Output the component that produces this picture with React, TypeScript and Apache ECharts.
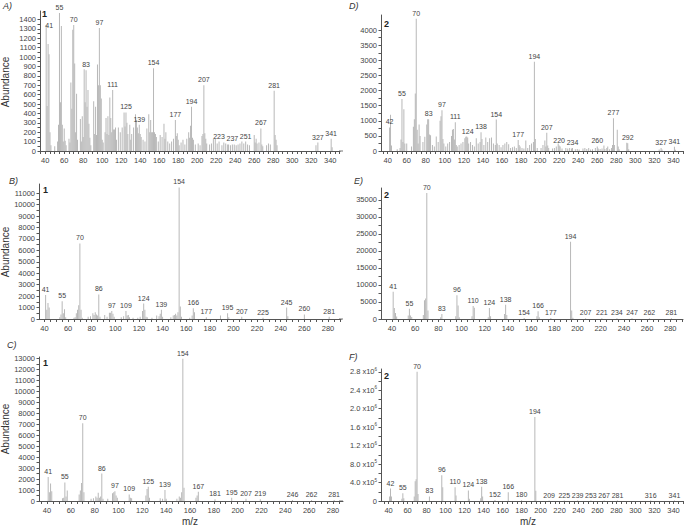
import React, { useEffect, useRef } from "react";
import * as echarts from "echarts";

// ---- Data: [m/z, abundance] ----
const spectrumA: [number, number][] = [
  [41, 1340], [42, 480], [43, 1140], [44, 1030], [45, 200], [46, 60], [50, 50], [53, 100], [54, 280], [55, 1470],
  [56, 520], [57, 1330], [58, 280], [59, 100], [60, 240], [61, 110], [62, 60], [65, 130], [66, 90], [67, 730],
  [68, 450], [69, 1290], [70, 1340], [71, 930], [72, 200], [73, 610], [74, 120], [77, 340], [78, 100], [79, 370],
  [80, 150], [81, 870], [82, 520], [83, 860], [84, 470], [85, 650], [86, 290], [87, 140], [88, 60], [91, 530],
  [92, 180], [93, 470], [94, 170], [95, 920], [96, 700], [97, 1310], [98, 700], [99, 560], [100, 120], [101, 90],
  [103, 200], [104, 350], [105, 180], [106, 370], [107, 170], [108, 570], [109, 350], [110, 200], [111, 650], [112, 230],
  [113, 230], [114, 250], [115, 120], [117, 250], [119, 200], [121, 250], [123, 410], [124, 260], [125, 410], [126, 300],
  [127, 180], [129, 280], [130, 120], [131, 180], [133, 250], [135, 390], [136, 330], [137, 250], [138, 190], [139, 280],
  [140, 180], [141, 150], [143, 120], [145, 100], [147, 240], [149, 390], [150, 200], [151, 330], [152, 200], [153, 200],
  [154, 880], [155, 200], [156, 180], [157, 150], [159, 100], [161, 170], [163, 150], [165, 290], [166, 130], [167, 200],
  [169, 100], [171, 80], [173, 100], [175, 130], [177, 330], [178, 160], [179, 190], [180, 120], [181, 60], [183, 90],
  [185, 120], [187, 70], [189, 130], [191, 200], [192, 140], [193, 270], [194, 470], [195, 140], [196, 120], [198, 70],
  [201, 80], [203, 60], [205, 160], [206, 180], [207, 700], [208, 190], [209, 130], [210, 80], [213, 70], [215, 80],
  [217, 130], [219, 130], [221, 80], [223, 100], [226, 60], [228, 90], [230, 80], [232, 70], [233, 70], [235, 60],
  [237, 70], [239, 70], [241, 60], [243, 70], [245, 80], [247, 100], [249, 80], [251, 100], [253, 70], [255, 60],
  [260, 170], [261, 90], [262, 130], [263, 80], [265, 90], [267, 240], [268, 70], [269, 50], [273, 60], [275, 80],
  [277, 70], [281, 640], [282, 170], [283, 120], [284, 60], [325, 60], [327, 90], [341, 130], [342, 40],
];
const labelsA = [41, 55, 70, 83, 97, 111, 125, 139, 154, 177, 194, 207, 223, 237, 251, 267, 281, 327, 341];

const spectrumB: [number, number][] = [
  [41, 2100], [42, 800], [43, 1400], [44, 1000], [53, 150], [54, 400], [55, 1550], [56, 500], [57, 850], [58, 150],
  [65, 100], [66, 150], [67, 500], [68, 800], [69, 1200], [70, 6600], [71, 800], [72, 100], [77, 200], [79, 250],
  [81, 500], [82, 350], [83, 600], [84, 400], [85, 300], [86, 2150], [87, 200], [91, 350], [93, 200], [95, 550],
  [96, 550], [97, 700], [98, 450], [99, 200], [105, 150], [107, 250], [109, 700], [110, 300], [111, 350], [112, 150],
  [115, 100], [119, 100], [121, 200], [123, 700], [124, 1350], [125, 800], [126, 200], [127, 150], [131, 100], [135, 300],
  [137, 250], [138, 450], [139, 800], [140, 200], [147, 150], [149, 300], [150, 350], [151, 450], [152, 300], [153, 600],
  [154, 11500], [155, 1100], [156, 200], [163, 100], [165, 300], [166, 950], [167, 600], [177, 150], [189, 300], [195, 500],
  [196, 150], [207, 200], [225, 100], [245, 1000], [246, 250], [260, 400], [281, 200],
];
const labelsB = [41, 55, 70, 86, 97, 109, 124, 139, 154, 166, 177, 195, 207, 225, 245, 260, 281];

const spectrumC: [number, number][] = [
  [41, 2200], [42, 800], [43, 1600], [44, 900], [53, 250], [54, 300], [55, 1700], [56, 400], [57, 950], [67, 600],
  [68, 950], [69, 1650], [70, 7100], [71, 800], [77, 200], [79, 250], [81, 400], [82, 300], [83, 750], [84, 300],
  [85, 400], [86, 2500], [87, 200], [91, 200], [95, 700], [96, 800], [97, 900], [98, 500], [99, 300], [109, 600],
  [110, 300], [111, 250], [123, 500], [124, 1100], [125, 1300], [126, 300], [135, 250], [137, 200], [139, 1000], [140, 200],
  [149, 200], [151, 400], [152, 300], [153, 800], [154, 13000], [155, 1200], [165, 300], [166, 500], [167, 850], [181, 150],
  [195, 300], [207, 200], [219, 150], [246, 100], [262, 100], [281, 100],
];
const labelsC = [41, 55, 70, 86, 97, 109, 125, 139, 154, 167, 181, 195, 207, 219, 246, 262, 281];

const spectrumD: [number, number][] = [
  [42, 780], [43, 1200], [44, 180], [50, 60], [53, 100], [54, 380], [55, 1720], [56, 300], [57, 1380], [58, 250],
  [60, 250], [65, 150], [67, 800], [68, 1050], [69, 1900], [70, 4380], [71, 700], [72, 250], [73, 880], [74, 500],
  [77, 300], [79, 470], [81, 880], [82, 1050], [83, 1050], [84, 550], [85, 520], [87, 200], [89, 150], [91, 480],
  [93, 300], [95, 1000], [96, 1150], [97, 1350], [98, 400], [99, 250], [101, 150], [103, 250], [105, 300], [107, 500],
  [108, 700], [109, 730], [110, 380], [111, 950], [112, 200], [113, 150], [115, 200], [117, 250], [119, 300], [121, 420],
  [122, 470], [123, 480], [124, 450], [125, 250], [127, 300], [129, 200], [131, 150], [133, 420], [135, 250], [137, 300],
  [138, 620], [139, 400], [141, 200], [143, 450], [145, 300], [147, 420], [149, 450], [151, 250], [153, 200], [154, 1040],
  [155, 250], [157, 200], [159, 120], [161, 200], [163, 250], [165, 300], [167, 220], [169, 100], [171, 120], [173, 150],
  [175, 100], [177, 360], [178, 200], [179, 150], [181, 100], [183, 80], [185, 350], [187, 100], [189, 200], [191, 250],
  [193, 300], [194, 2950], [195, 400], [197, 100], [201, 100], [203, 200], [205, 350], [206, 150], [207, 600], [208, 180],
  [209, 100], [213, 80], [215, 100], [217, 150], [219, 250], [220, 180], [221, 150], [223, 80], [227, 100], [229, 80],
  [231, 100], [233, 80], [234, 100], [237, 60], [239, 70], [241, 50], [245, 80], [247, 100], [249, 70], [251, 100],
  [253, 50], [255, 60], [258, 100], [260, 150], [261, 80], [263, 70], [265, 80], [267, 180], [268, 70], [270, 100],
  [271, 150], [273, 60], [275, 100], [276, 200], [277, 1080], [278, 200], [281, 700], [282, 150], [283, 60], [291, 270],
  [292, 260], [293, 60], [325, 50], [327, 100], [328, 50], [341, 140], [342, 40],
];
const labelsD = [42, 55, 70, 83, 97, 111, 124, 138, 154, 177, 194, 207, 220, 234, 260, 277, 292, 327, 341];

const spectrumE: [number, number][] = [
  [41, 8000], [42, 3200], [43, 1800], [44, 700], [54, 1000], [55, 3000], [56, 1000], [57, 600], [67, 1200], [68, 5500],
  [69, 6000], [70, 37000], [71, 2500], [82, 500], [83, 1500], [95, 800], [96, 7000], [97, 4000], [98, 500], [109, 800],
  [110, 3800], [111, 3300], [123, 500], [124, 3200], [125, 800], [137, 1500], [138, 4200], [139, 1200], [154, 300], [165, 800],
  [166, 2300], [167, 500], [177, 300], [194, 22700], [195, 2500], [196, 400], [207, 200], [221, 200], [234, 200], [247, 200],
  [262, 200], [281, 200],
];
const labelsE = [41, 55, 70, 83, 96, 110, 124, 138, 154, 166, 177, 194, 207, 221, 234, 247, 262, 281];

const spectrumF: [number, number][] = [
  [41, 100000], [42, 270000], [43, 100000], [54, 50000], [55, 170000], [56, 60000], [67, 100000], [68, 430000], [69, 470000], [70, 2800000],
  [71, 150000], [83, 100000], [96, 560000], [97, 300000], [110, 300000], [111, 120000], [124, 230000], [125, 50000], [137, 60000], [138, 310000],
  [139, 100000], [152, 20000], [166, 190000], [180, 15000], [194, 1820000], [195, 220000], [209, 10000], [225, 10000], [239, 10000], [253, 10000],
  [267, 10000], [281, 10000], [316, 10000], [341, 10000],
];
const labelsF = [42, 55, 70, 83, 96, 110, 124, 138, 152, 166, 180, 194, 209, 225, 239, 253, 267, 281, 316, 341];

const yTicksA = [0, 100, 200, 300, 400, 500, 600, 700, 800, 900, 1000, 1100, 1200, 1300, 1400];
const yTicksB = [0, 1000, 2000, 3000, 4000, 5000, 6000, 7000, 8000, 9000, 10000, 11000];
const yTicksC = [0, 1000, 2000, 3000, 4000, 5000, 6000, 7000, 8000, 9000, 10000, 11000, 12000, 13000];
const yTicksD = [0, 500, 1000, 1500, 2000, 2500, 3000, 3500, 4000];
const yTicksE = [0, 5000, 10000, 15000, 20000, 25000, 30000, 35000];
const yTicksF = [0, 400000, 800000, 1200000, 1600000, 2000000, 2400000, 2800000];
const yLabelsF = ["0", "4.0 x10|5", "8.0 x10|5", "1.2 x10|6", "1.6 x10|6", "2.0 x10|6", "2.4 x10|6", "2.8 x10|6"];

const xTicksLong = [40, 60, 80, 100, 120, 140, 160, 180, 200, 220, 240, 260, 280, 300, 320, 340];
const xTicksShort = [40, 60, 80, 100, 120, 140, 160, 180, 200, 220, 240, 260, 280];

const FONT = "'Liberation Sans', Arial, sans-serif";
const TXT = "#444";
const BAR = "#b8b8b8";

type Panel = {
  spec: [number, number][];
  labels: number[];
  grid: { left: number; top: number; width: number; height: number };
  xmin: number; xmax: number; ymax: number;
  yTicks: number[];
  xTicks: number[];
  labelShift?: Record<number, [number, number]>;
  yFmt?: (v: number) => string;
};

function halfSteps(arr: number[]): number[] {
  const out: number[] = [];
  for (let i = 0; i < arr.length; i++) {
    out.push(arr[i]);
    if (i < arr.length - 1) out.push((arr[i] + arr[i + 1]) / 2);
  }
  return out;
}
function fiveSteps(min: number, max: number): number[] {
  const out: number[] = [];
  const start = Math.ceil(min / 5) * 5;
  for (let v = start; v <= max; v += 5) out.push(v);
  return out;
}

export default function App() {
  const ref = useRef<HTMLDivElement>(null);
  useEffect(() => {
    if (!ref.current) return;
    const chart = echarts.init(ref.current, undefined, { renderer: "svg" });
    const panels: Panel[] = [
      { spec: spectrumA, labels: labelsA, grid: { left: 40, top: 11, width: 300, height: 140 }, xmin: 34.5, xmax: 350.3, ymax: 1490, yTicks: yTicksA, xTicks: xTicksLong, labelShift: { 41: [3, 6] } },
      { spec: spectrumB, labels: labelsB, grid: { left: 39, top: 184, width: 302, height: 135 }, xmin: 35.4, xmax: 291, ymax: 11800, yTicks: yTicksB, xTicks: xTicksShort },
      { spec: spectrumC, labels: labelsC, grid: { left: 39, top: 357, width: 304, height: 144 }, xmin: 33.3, xmax: 288.4, ymax: 13150, yTicks: yTicksC, xTicks: xTicksShort },
      { spec: spectrumD, labels: labelsD, grid: { left: 381, top: 15, width: 302, height: 136 }, xmin: 33, xmax: 350, ymax: 4500, yTicks: yTicksD, xTicks: xTicksLong },
      { spec: spectrumE, labels: labelsE, grid: { left: 381, top: 188, width: 302, height: 131 }, xmin: 30.5, xmax: 291, ymax: 38500, yTicks: yTicksE, xTicks: xTicksShort },
      {
        spec: spectrumF, labels: labelsF, grid: { left: 381, top: 369, width: 302, height: 132 }, xmin: 32, xmax: 350, ymax: 2860000, yTicks: yTicksF, xTicks: xTicksLong,
        yFmt: (v: number) => {
          const i = yTicksF.indexOf(v);
          const s = i >= 0 ? yLabelsF[i] : "";
          if (!s.includes("|")) return s;
          const [a, b] = s.split("|");
          return `{a|${a}}{s|${b}}`;
        },
      },
    ];

    const axisLine = { lineStyle: { color: "#555", width: 1 } };
    const peakLabel = {
      position: "top", distance: 2, fontSize: 7, color: TXT, fontFamily: FONT,
      formatter: (d: any) => String(d.value[0]),
    };
    const option: any = {
      animation: false,
      grid: panels.map((p) => ({ ...p.grid, containLabel: false })),
      xAxis: panels.map((p, i) => ({
        type: "value", gridIndex: i, min: p.xmin, max: p.xmax,
        axisLine, splitLine: { show: false },
        axisTick: { show: true, length: 3, lineStyle: { color: "#555" }, customValues: fiveSteps(p.xmin, p.xmax) },
        axisLabel: { customValues: p.xTicks, fontSize: 7.5, color: TXT, fontFamily: FONT, margin: 5 },
      })),
      yAxis: panels.map((p, i) => ({
        type: "value", gridIndex: i, min: 0, max: p.ymax,
        axisLine: { show: true, ...axisLine }, splitLine: { show: false },
        axisTick: { show: true, length: 2.5, lineStyle: { color: "#555" }, customValues: halfSteps(p.yTicks) },
        axisLabel: {
          customValues: p.yTicks, fontSize: 7.5, color: TXT, fontFamily: FONT, margin: 4,
          formatter: p.yFmt ? p.yFmt : (v: number) => String(v),
          rich: {
            a: { fontSize: 7.5, color: TXT, fontFamily: FONT },
            s: { fontSize: 4.5, color: TXT, fontFamily: FONT, padding: [0, 0, 5, 0] },
          },
        },
      })),
      series: panels.map((p, i) => ({
        type: "bar", xAxisIndex: i, yAxisIndex: i, barWidth: 1,
        itemStyle: { color: BAR },
        label: { show: false, ...peakLabel },
        data: p.spec.map(([mz, ab]) => ({
          value: [mz, ab],
          label: {
            show: p.labels.includes(mz), ...peakLabel,
            offset: p.labelShift && p.labelShift[mz] ? p.labelShift[mz] : [0, 0],
          },
        })),
      })),
      graphic: [
        { type: "text", left: 3, top: 1, style: { text: "A)", font: `italic 9px ${FONT}`, fill: "#333" } },
        { type: "text", left: 9, top: 176, style: { text: "B)", font: `italic 9px ${FONT}`, fill: "#333" } },
        { type: "text", left: 7, top: 340, style: { text: "C)", font: `italic 9px ${FONT}`, fill: "#333" } },
        { type: "text", left: 349, top: 1, style: { text: "D)", font: `italic 9px ${FONT}`, fill: "#333" } },
        { type: "text", left: 354, top: 176, style: { text: "E)", font: `italic 9px ${FONT}`, fill: "#333" } },
        { type: "text", left: 349, top: 352, style: { text: "F)", font: `italic 9px ${FONT}`, fill: "#333" } },
        { type: "text", left: 42, top: 9, style: { text: "1", font: `bold 9px ${FONT}`, fill: "#222" } },
        { type: "text", left: 43, top: 185, style: { text: "1", font: `bold 9px ${FONT}`, fill: "#222" } },
        { type: "text", left: 43, top: 358, style: { text: "1", font: `bold 9px ${FONT}`, fill: "#222" } },
        { type: "text", left: 384, top: 19, style: { text: "2", font: `bold 9px ${FONT}`, fill: "#222" } },
        { type: "text", left: 384, top: 190, style: { text: "2", font: `bold 9px ${FONT}`, fill: "#222" } },
        { type: "text", left: 384, top: 371, style: { text: "2", font: `bold 9px ${FONT}`, fill: "#222" } },
        { type: "text", x: 5, y: 82, rotation: Math.PI / 2, style: { text: "Abundance", font: `10px ${FONT}`, fill: "#333", align: "center", verticalAlign: "middle" } },
        { type: "text", x: 5, y: 252, rotation: Math.PI / 2, style: { text: "Abundance", font: `10px ${FONT}`, fill: "#333", align: "center", verticalAlign: "middle" } },
        { type: "text", x: 5, y: 429, rotation: Math.PI / 2, style: { text: "Abundance", font: `10px ${FONT}`, fill: "#333", align: "center", verticalAlign: "middle" } },
        { type: "text", x: 190, y: 521, style: { text: "m/z", font: `10px ${FONT}`, fill: "#333", align: "center", verticalAlign: "middle" } },
        { type: "text", x: 528, y: 521, style: { text: "m/z", font: `10px ${FONT}`, fill: "#333", align: "center", verticalAlign: "middle" } },
        { type: "line", shape: { x1: 339, y1: 151, x2: 343, y2: 151 }, style: { stroke: "#777", lineWidth: 1 } },
        { type: "line", shape: { x1: 339, y1: 319, x2: 343, y2: 319 }, style: { stroke: "#777", lineWidth: 1 } },
        { type: "line", shape: { x1: 339, y1: 501, x2: 343, y2: 501 }, style: { stroke: "#777", lineWidth: 1 } },
      ],
    };
    chart.setOption(option);
    return () => chart.dispose();
  }, []);
  return (
    <div
      ref={ref}
      style={{ position: "absolute", left: 0, top: 0, width: 685, height: 532, background: "#fff" }}
    />
  );
}
